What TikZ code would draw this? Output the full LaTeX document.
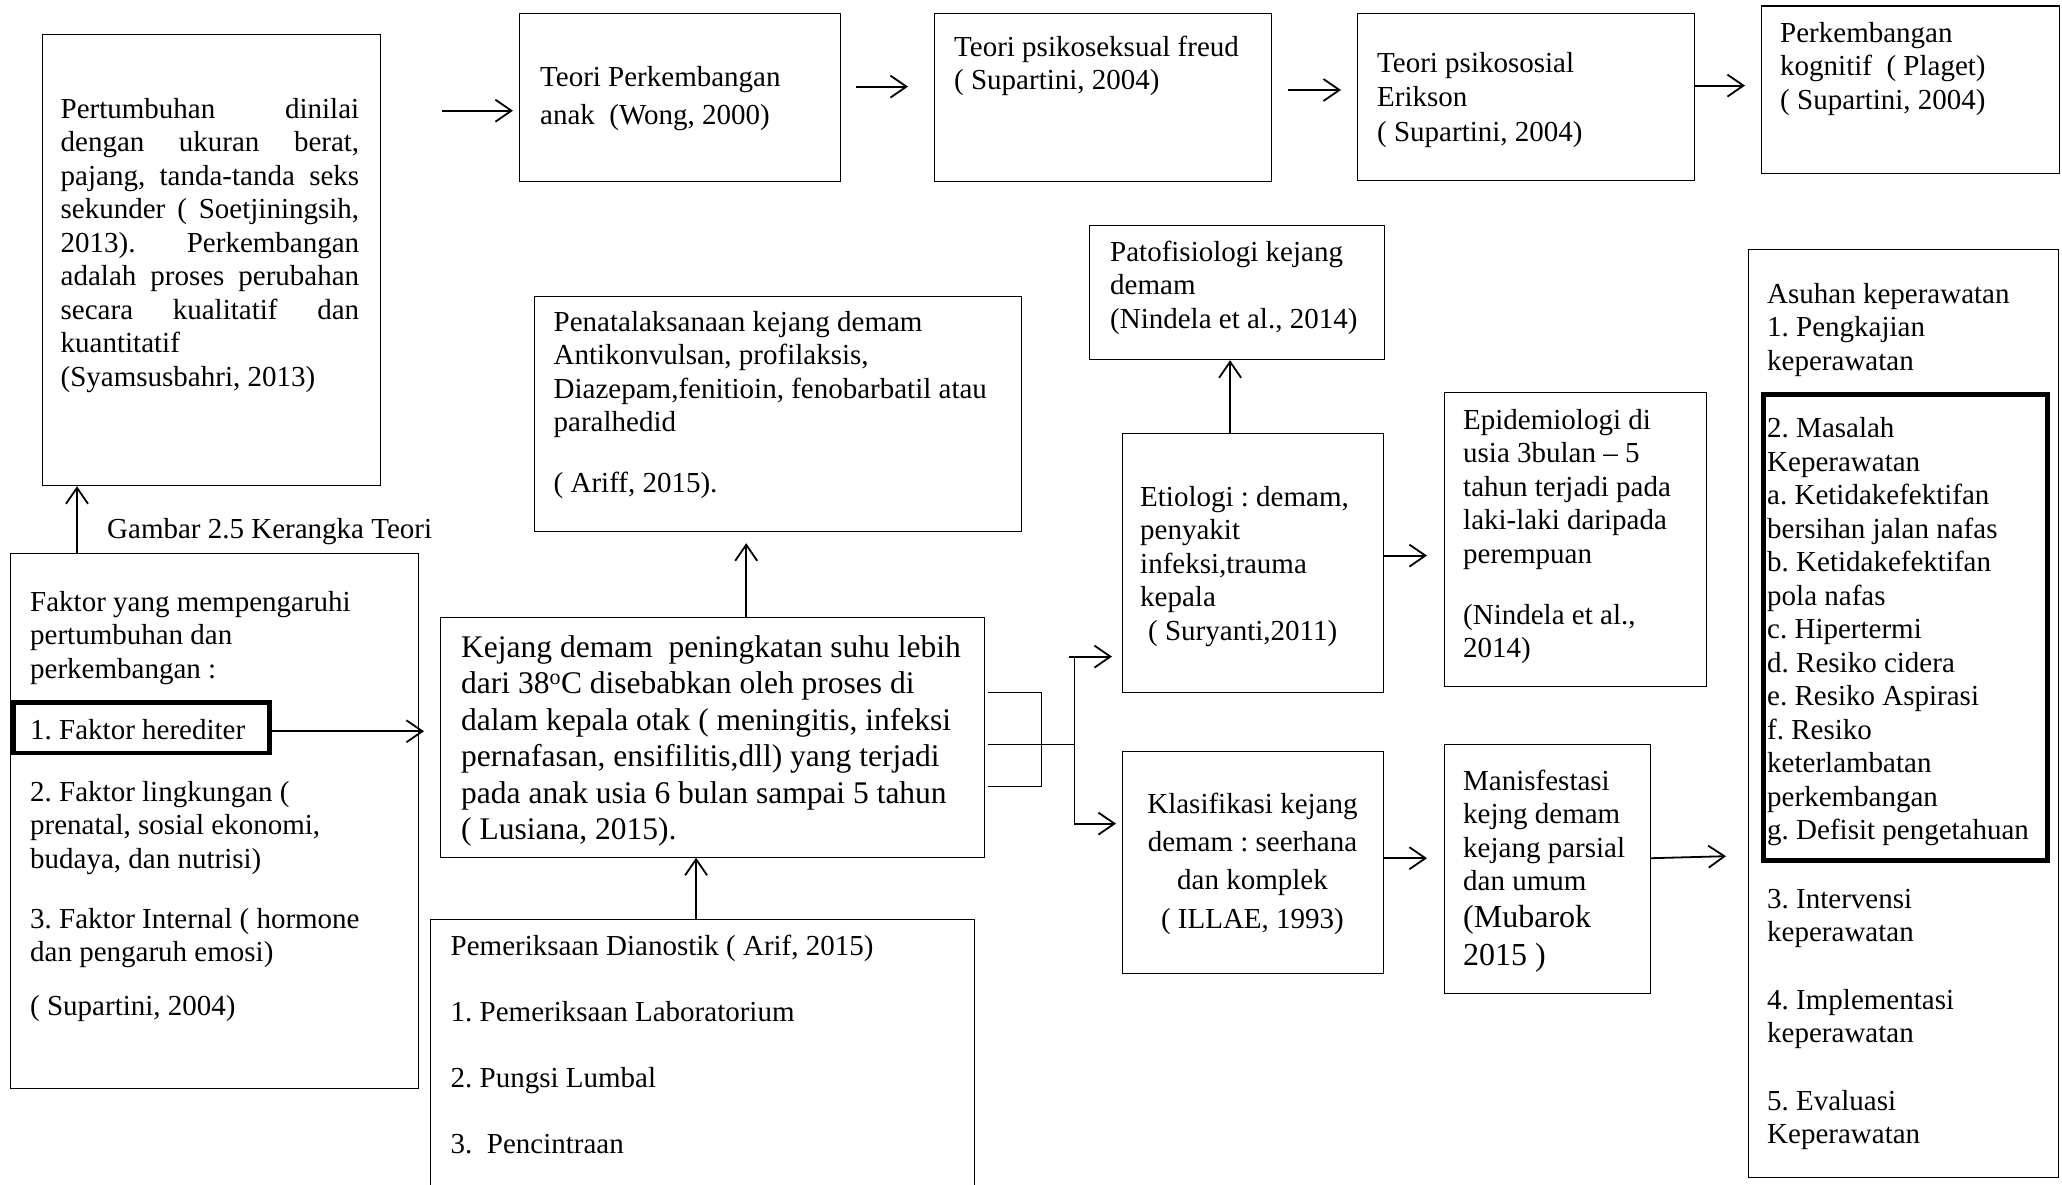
\documentclass[tikz,border=0pt]{standalone}
\usepackage{fontspec}
\setmainfont{Liberation Serif}
\usetikzlibrary{arrows.meta,calc}
\newcommand\fnorm{\fontsize{29}{33.5}\selectfont}
\newcommand\fkej{\fontsize{31.5}{36.5}\selectfont}
\newcommand\fkla{\fontsize{29}{38.3}\selectfont}
\newcommand\fmub{\fontsize{32}{38}\selectfont}
\newcommand\tstart{\noindent\frenchspacing\spaceskip=0pt\xspaceskip=0pt\strut}
\begin{document}
\begin{tikzpicture}[x=1pt,y=-1pt,
  box/.style={draw=black, line width=1.2pt, inner sep=0pt, anchor=north west},
  thickbox/.style={draw=black, line width=4.5pt, inner sep=0pt, anchor=north west},
  txt/.style={anchor=north west, inner sep=0pt, align=left, font=\fnorm, text width=600pt},
  arr/.style={-{Straight Barb[length=16pt,width=22pt]}, line width=1.8pt},
  brk/.style={line width=1.3pt}]
\useasboundingbox[fill=white] (0,0) rectangle (2062,1184);

% boxes
\node[box, minimum width=338pt, minimum height=451pt] (A) at (42,34) {};
\node[box, minimum width=408pt, minimum height=535pt] (B) at (10,553) {};
\node[thickbox, minimum width=256pt, minimum height=50.5pt] (her) at (11,700) {};
\node[box, minimum width=321pt, minimum height=168pt] (C) at (519,13) {};
\node[box, minimum width=337pt, minimum height=168pt] (D) at (934,13) {};
\node[box, minimum width=337pt, minimum height=167.5pt] (E) at (1357,12.5) {};
\node[box, minimum width=298pt, minimum height=167.6pt] (F) at (1761,5.4) {};
\node[box, minimum width=487pt, minimum height=235pt] (G) at (534,296) {};
\node[box, minimum width=544pt, minimum height=239.5pt] (H) at (440,617) {};
\node[box, minimum width=544pt, minimum height=300pt] (I) at (430,919) {};
\node[box, minimum width=295pt, minimum height=134pt] (J) at (1089,225) {};
\node[box, minimum width=261.5pt, minimum height=259pt] (K) at (1121.5,433) {};
\node[box, minimum width=262pt, minimum height=294pt] (L) at (1443.5,392) {};
\node[box, minimum width=261.5pt, minimum height=221.6pt] (M) at (1121.5,751) {};
\node[box, minimum width=206.4pt, minimum height=248.6pt] (O) at (1443.6,744) {};
\node[box, minimum width=310.5pt, minimum height=928pt] (N) at (1747.5,249) {};
\node[thickbox, line width=5pt, minimum width=284pt, minimum height=466pt] (Nin) at (1760.5,392) {};

% texts
\node[txt] (At) at (60.5,94.5) {\tstart\makebox[298.5pt][s]{Pertumbuhan dinilai}\\
\makebox[298.5pt][s]{dengan ukuran berat,}\\
\makebox[298.5pt][s]{pajang, tanda-tanda seks}\\
\makebox[298.5pt][s]{sekunder ( Soetjiningsih,}\\
\makebox[298.5pt][s]{2013). Perkembangan}\\
\makebox[298.5pt][s]{adalah proses perubahan}\\
\makebox[298.5pt][s]{secara kualitatif dan}\\
kuantitatif\\
(Syamsusbahri, 2013)};

\node[txt] (gam) at (107,514.5) {\tstart Gambar 2.5 Kerangka Teori};

\node[txt] (Bt) at (30,587.5) {\tstart Faktor yang mempengaruhi\\
pertumbuhan dan\\
perkembangan :\\[27.5pt]
1. Faktor herediter\\[28.5pt]
2. Faktor lingkungan (\\
prenatal, sosial ekonomi,\\
budaya, dan nutrisi)\\[26.5pt]
3. Faktor Internal ( hormone\\
dan pengaruh emosi)\\[20.5pt]
( Supartini, 2004)};

\node[txt] (Ct) at (540,62.5) {\tstart Teori Perkembangan\\[4.5pt]
anak~ (Wong, 2000)};
\node[txt] (Dt) at (954,32.5) {\tstart Teori psikoseksual freud\\
( Supartini, 2004)};
\node[txt] (Et) at (1377,48.5) {\tstart Teori psikososial\\[1pt]
Erikson\\[1pt]
( Supartini, 2004)};
\node[txt] (Ft) at (1780,18.5) {\tstart Perkembangan\\
kognitif~ ( Plaget)\\
( Supartini, 2004)};

\node[txt] (Gt) at (553.5,307.5) {\tstart Penatalaksanaan kejang demam\\
Antikonvulsan, profilaksis,\\
Diazepam,fenitioin, fenobarbatil atau\\
paralhedid\\[27.5pt]
( Ariff, 2015).};

\node[txt] (Jt) at (1110,237.5) {\tstart Patofisiologi kejang\\
demam\\
(Nindela et al., 2014)};

\node[txt, font=\fkej] (Ht) at (461,631.5) {\tstart Kejang demam~ peningkatan suhu lebih\\
dari 38\textsuperscript{o}C disebabkan oleh proses di\\
dalam kepala otak ( meningitis, infeksi\\
pernafasan, ensifilitis,dll) yang terjadi\\
pada anak usia 6 bulan sampai 5 tahun\\
( Lusiana, 2015).};

\node[txt] (It) at (450.5,931.5) {\tstart Pemeriksaan Dianostik ( Arif, 2015)\\[32.5pt]
1. Pemeriksaan Laboratorium\\[32.5pt]
2. Pungsi Lumbal\\[32.5pt]
3.~ Pencintraan};

\node[txt] (Kt) at (1140,482.5) {\tstart Etiologi : demam,\\
penyakit\\
infeksi,trauma\\
kepala\\
\hspace*{8pt}( Suryanti,2011)};

\node[txt] (Lt) at (1463,405.5) {\tstart Epidemiologi di\\
usia 3bulan \textendash{} 5\\
tahun terjadi pada\\
laki-laki daripada\\
perempuan\\[27.5pt]
(Nindela et al.,\\
2014)};

\node[txt, font=\fkla] (Mt) at (1121.5,786.2) {\tstart\makebox[261.5pt]{Klasifikasi kejang}\\
\makebox[261.5pt]{demam : seerhana}\\
\makebox[261.5pt]{dan komplek}\\
\makebox[261.5pt]{( ILLAE, 1993)}};

\node[txt] (Ot) at (1463,766.5) {\tstart Manisfestasi\\
kejng demam\\
kejang parsial\\
dan umum};
\node[txt, font=\fmub] (Ot2) at (1463,900.9) {\tstart (Mubarok\\
2015 )};

\node[txt] (Nt) at (1767,279.5) {\tstart Asuhan keperawatan\\
1. Pengkajian\\
keperawatan\\[34pt]
2. Masalah\\
Keperawatan\\
a. Ketidakefektifan\\
bersihan jalan nafas\\
b. Ketidakefektifan\\
pola nafas\\
c. Hipertermi\\
d. Resiko cidera\\
e. Resiko Aspirasi\\
f. Resiko\\
keterlambatan\\
perkembangan\\
g. Defisit pengetahuan\\[35pt]
3. Intervensi\\
keperawatan\\[34pt]
4. Implementasi\\
keperawatan\\[34pt]
5. Evaluasi\\
Keperawatan};

% connectors
\coordinate (s0) at (441.7,110.7);
\draw[arr, shorten >=6pt] (s0) -- (s0 -| C.west);
\draw[arr, shorten <=15pt, shorten >=26pt] ([yshift=11pt]C.east) -- ([yshift=11pt]C.east -| D.west);
\draw[arr, shorten <=16pt, shorten >=16pt] ([yshift=7.6pt]D.east) -- ([yshift=7.6pt]D.east -| E.west);
\draw[arr, shorten >=16pt] ([yshift=11.25pt]E.east) -- ([yshift=11.25pt]E.east -| F.west);
\draw[arr] ([xshift=67pt]B.north west) -- ([xshift=67pt]B.north west |- A.south);
\draw[arr, shorten >=16pt] ([yshift=-3.75pt]her.east) -- ([yshift=-3.75pt]her.east -| H.west);
\draw[arr, shorten >=11pt] ([xshift=33.6pt]H.north) -- ([xshift=33.6pt]H.north |- G.south);
\draw[arr] ([xshift=-6.5pt]I.north) -- ([xshift=-6.5pt]I.north |- H.south);
\draw[arr] ([xshift=-22.75pt]K.north) -- ([xshift=-22.75pt]K.north |- J.south);
\draw[arr, shorten >=16.5pt] ([yshift=7.5pt]K.east) -- ([yshift=7.5pt]K.east -| L.west);
\draw[arr, shorten >=16.6pt] ([yshift=4.2pt]M.east) -- ([yshift=4.2pt]M.east -| O.west);
\draw[arr, shorten >=21.5pt] ([yshift=10.7pt]O.east) -- ([yshift=-142pt]N.west);

% bracket from Kejang box
\draw[brk] ([xshift=3pt,yshift=44.75pt]H.east) -| ++(53,94) -- ++(-53,0);
\draw[brk] ([xshift=3pt,yshift=-7.25pt]H.east) -- ++(86,0) coordinate (hub);
\coordinate (hubT) at ($(hub)+(0,-88)$);
\coordinate (hubTa) at ($(hub)+(-5,-88)$);
\coordinate (hubB) at ($(hub)+(0,79)$);
\draw[brk] (hubT) -- (hubB);
\draw[arr, shorten >=9.5pt] (hubTa) -- (hubTa -| K.west);
\draw[arr, shorten >=5.5pt] (hubB) -- (hubB -| M.west);
\end{tikzpicture}
\end{document}
